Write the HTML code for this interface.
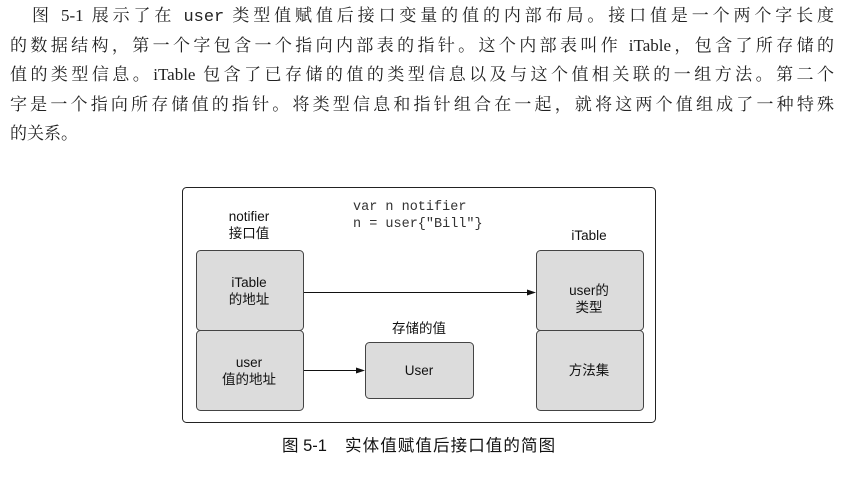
<!DOCTYPE html>
<html><head><meta charset="utf-8"><style>
body{margin:0;width:845px;height:481px;background:#fff;overflow:hidden;position:relative}
.p{position:absolute;left:10px;width:824px;font-family:"Liberation Serif","Noto Serif CJK SC",serif;font-size:17px;color:#222;line-height:29.6px;text-align:justify;text-align-last:justify;top:1px}
.p div{white-space:nowrap;height:29.6px}
.m{font-family:"Liberation Mono",monospace;font-size:17px}
svg{position:absolute;left:0;top:0}
svg text{font-family:"Liberation Sans","Noto Sans CJK SC",sans-serif;font-size:13.5px;fill:#111}
</style></head><body>
<div class="p">
<div style="text-align-last:justify;padding-left:22px">图 5-1 展示了在 <span class="m">user</span> 类型值赋值后接口变量的值的内部布局。接口值是一个两个字长度</div>
<div>的数据结构，第一个字包含一个指向内部表的指针。这个内部表叫作 iTable，包含了所存储的</div>
<div>值的类型信息。iTable 包含了已存储的值的类型信息以及与这个值相关联的一组方法。第二个</div>
<div>字是一个指向所存储值的指针。将类型信息和指针组合在一起，就将这两个值组成了一种特殊</div>
<div style="text-align-last:left">的关系。</div>
</div>
<svg width="845" height="481">
<rect x="182.5" y="187.5" width="473" height="235" rx="4" fill="#fff" stroke="#222" stroke-width="1"/>
<g fill="#dcdcdc" stroke="#444" stroke-width="1">
<rect x="196.5" y="250.5" width="107" height="80" rx="4"/>
<rect x="196.5" y="330.5" width="107" height="80" rx="4"/>
<rect x="536.5" y="250.5" width="107" height="80" rx="4"/>
<rect x="536.5" y="330.5" width="107" height="80" rx="4"/>
<rect x="365.5" y="342.5" width="108" height="56" rx="4"/>
</g>
<g stroke="#111" stroke-width="1">
<line x1="304" y1="292.5" x2="528" y2="292.5"/>
<line x1="304" y1="370.5" x2="358" y2="370.5"/>
</g>
<polygon points="536,292.5 527,289.5 527,295.5" fill="#111"/>
<polygon points="365,370.5 356,367.5 356,373.5" fill="#111"/>
<g text-anchor="middle">
<text x="249" y="221">notifier</text>
<text x="249" y="238">接口值</text>
<text x="589" y="240">iTable</text>
<text x="419" y="333">存储的值</text>
<text x="249" y="287">iTable</text>
<text x="249" y="304">的地址</text>
<text x="249" y="367">user</text>
<text x="249" y="384">值的地址</text>
<text x="589" y="295">user的</text>
<text x="589" y="312">类型</text>
<text x="589" y="375">方法集</text>
<text x="419" y="375">User</text>
</g>
<text x="353" y="210" style="font-family:'Liberation Mono',monospace;font-size:13.5px;fill:#333">var n notifier</text>
<text x="353" y="227" style="font-family:'Liberation Mono',monospace;font-size:13.5px;fill:#333">n = user{"Bill"}</text>
<text x="282" y="451" style="font-size:16.5px">图 5-1</text>
<text x="345" y="451" style="font-size:16.5px;letter-spacing:1.1px">实体值赋值后接口值的简图</text>
</svg>
</body></html>
